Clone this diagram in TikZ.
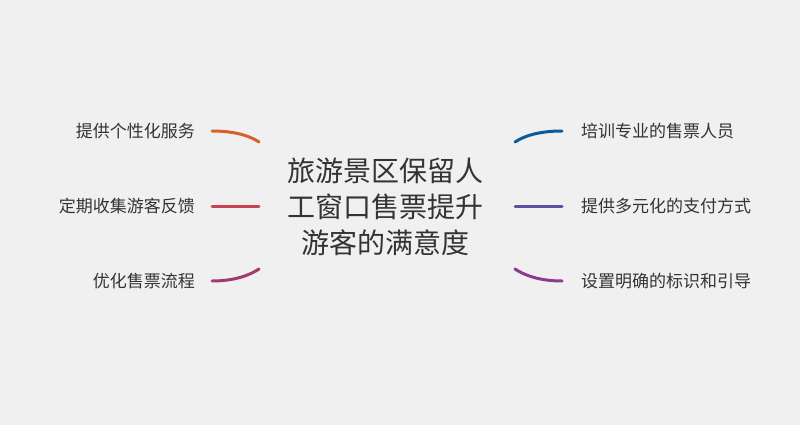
\documentclass[tikz,border=0pt]{standalone}
\usepackage{fontspec}
\newfontfamily\cjk{Noto Sans CJK SC}
\usepackage{tikz}
\usetikzlibrary{positioning}
\usepackage{xcolor}
\definecolor{pagebg}{RGB}{240,240,240}
\definecolor{txtgray}{RGB}{51,51,51}
\definecolor{brorange}{RGB}{214,96,46}
\definecolor{brred}{RGB}{200,66,80}
\definecolor{brplum}{RGB}{163,59,110}
\definecolor{brblue}{RGB}{10,92,153}
\definecolor{brindigo}{RGB}{90,82,160}
\definecolor{brviolet}{RGB}{139,60,140}

\begin{document}
\begin{tikzpicture}[x=1pt,y=-1pt,
  topic/.style={font=\cjk\fontsize{28}{36}\selectfont,text=txtgray,align=center,inner sep=0pt},
  leaf/.style={font=\cjk\fontsize{17}{20}\selectfont,text=txtgray,inner sep=0pt},
  branch/.style={line width=3pt,line cap=round}
]
\fill[pagebg] (0,0) rectangle (800,425);
\useasboundingbox (0,0) rectangle (800,425);

\node[topic] (root) at (385,207) {旅游景区保留人\\工窗口售票提升\\游客的满意度};

\node[leaf,anchor=east] (svc) at (195,131) {提供个性化服务};
\node[leaf,anchor=east] (fb) at (195,206) {定期收集游客反馈};
\node[leaf,anchor=east] (flow) at (195,281) {优化售票流程};
\node[leaf,anchor=west] (staff) at (581,131) {培训专业的售票人员};
\node[leaf,anchor=west] (pay) at (581,206) {提供多元化的支付方式};
\node[leaf,anchor=west] (sign) at (581,281) {设置明确的标识和引导};

% branch ends
\coordinate (svc-in) at (212,131);
\coordinate (svc-out) at (259,142);
\coordinate (fb-in) at (212,206);
\coordinate (fb-out) at (259,206);
\coordinate (flow-in) at (212,281);
\coordinate (flow-out) at (259,269);
\coordinate (staff-out) at (515,142);
\coordinate (staff-in) at (562,131);
\coordinate (pay-out) at (515,206);
\coordinate (pay-in) at (562,206);
\coordinate (sign-out) at (515,269);
\coordinate (sign-in) at (562,281);

\draw[branch,brorange] (svc-in) .. controls (235,131) and (250,136) .. (svc-out);
\draw[branch,brred] (fb-in) -- (fb-out);
\draw[branch,brplum] (flow-in) .. controls (235,281) and (250,275) .. (flow-out);
\draw[branch,brblue] (staff-out) .. controls (524,136) and (539,131) .. (staff-in);
\draw[branch,brindigo] (pay-out) -- (pay-in);
\draw[branch,brviolet] (sign-out) .. controls (524,275) and (539,281) .. (sign-in);
\end{tikzpicture}
\end{document}
